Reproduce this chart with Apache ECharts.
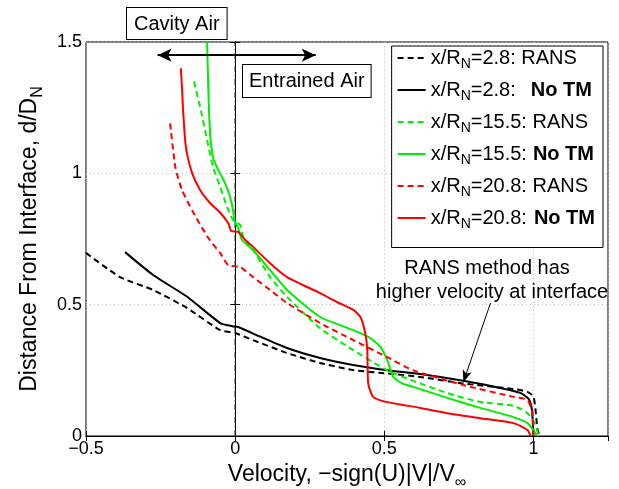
<!DOCTYPE html>
<html>
<head>
<meta charset="utf-8">
<script src="https://cdn.jsdelivr.net/npm/echarts@6/dist/echarts.min.js"></script>
<style>
  html, body { margin: 0; padding: 0; background: #fff; }
  #chart { width: 619px; height: 489px; }
</style>
</head>
<body>
<div id="chart"></div>
<script>
// velocity (x) vs distance from interface (y)
const rans28 = [[-0.5,0.697],[-0.386,0.605],[-0.275,0.556],[-0.161,0.487],[-0.05,0.403],[0,0.392],[0.06,0.365],[0.174,0.316],[0.285,0.278],[0.396,0.251],[0.51,0.238],[0.62,0.225],[0.765,0.2],[0.933,0.179],[0.98,0.168],[1.0,0.15],[1.007,0.099],[1.013,0.03],[1.02,0]]
const noTm28 = [[-0.369,0.70],[-0.275,0.613],[-0.161,0.53],[-0.05,0.43],[-0.01,0.418],[0.01,0.415],[0.06,0.39],[0.174,0.335],[0.285,0.297],[0.396,0.27],[0.51,0.25],[0.62,0.236],[0.765,0.21],[0.9,0.18],[0.956,0.164],[0.985,0.14],[0.995,0.1],[0.998,0.05],[1.0,0]]
const rans155 = [[-0.138,1.35],[-0.117,1.25],[-0.094,1.127],[-0.074,1.024],[-0.05,0.948],[-0.027,0.872],[-0.007,0.822],[0.017,0.803],[0.027,0.758],[0.06,0.708],[0.117,0.605],[0.174,0.53],[0.285,0.41],[0.396,0.327],[0.51,0.25],[0.597,0.21],[0.71,0.164],[0.82,0.13],[0.933,0.115],[0.98,0.087],[1.007,0.042],[1.017,0]]
const noTm155 = [[-0.094,1.5],[-0.09,1.32],[-0.084,1.15],[-0.074,1.06],[-0.06,1.02],[-0.034,0.963],[-0.017,0.91],[-0.007,0.86],[-0.003,0.822],[0.01,0.792],[0.023,0.746],[0.06,0.708],[0.117,0.632],[0.174,0.556],[0.285,0.453],[0.396,0.403],[0.453,0.373],[0.487,0.339],[0.51,0.289],[0.53,0.225],[0.56,0.2],[0.597,0.187],[0.711,0.145],[0.822,0.107],[0.933,0.072],[0.98,0.049],[1.013,0]]
const rans208 = [[-0.218,1.19],[-0.2,1.02],[-0.178,0.936],[-0.14,0.85],[-0.09,0.754],[-0.05,0.696],[-0.023,0.65],[0.017,0.643],[0.06,0.605],[0.117,0.556],[0.174,0.506],[0.285,0.43],[0.396,0.365],[0.51,0.30],[0.597,0.25],[0.765,0.194],[0.933,0.149],[0.98,0.137],[0.997,0.087],[1.0,0]]
const noTm208 = [[-0.182,1.40],[-0.178,1.32],[-0.175,1.25],[-0.17,1.16],[-0.164,1.09],[-0.144,1.0],[-0.117,0.936],[-0.084,0.887],[-0.05,0.85],[-0.023,0.81],[-0.013,0.78],[0.01,0.777],[0.034,0.746],[0.06,0.72],[0.117,0.658],[0.174,0.605],[0.285,0.544],[0.342,0.51],[0.396,0.48],[0.42,0.453],[0.436,0.392],[0.443,0.327],[0.446,0.2],[0.463,0.148],[0.51,0.129],[0.62,0.107],[0.711,0.087],[0.822,0.068],[0.933,0.049],[0.98,0.023],[0.99,0]]

const xTicks = [-0.5, 0, 0.5, 1]
const yTicks = [0, 0.5, 1, 1.5]
const seriesNames = ['2.8: RANS', '2.8: No TM', '15.5: RANS', '15.5: No TM', '20.8: RANS', '20.8: No TM']

const FONT = '"Liberation Sans", Arial, Helvetica, sans-serif'
const chart = echarts.init(document.getElementById('chart'), null, { renderer: 'canvas' })

function curve(name, data, color, dashed) {
  return {
    name, type: 'line', data, showSymbol: false, symbol: 'none', smooth: 0.2,
    lineStyle: { color, width: 2, type: dashed ? [6, 4] : 'solid' },
    itemStyle: { color },
    z: 3,
  }
}

function fmtTick(v) {
  if (v < 0) return '\u2212' + Math.abs(v)
  return String(v)
}

const option = {
  backgroundColor: '#fff',
  animation: false,
  textStyle: { fontFamily: FONT },
  grid: {
    left: 86, right: 11, top: 42, bottom: 53, outerBoundsMode: 'none',
    show: true, borderColor: '#000', borderWidth: 1,
  },
  xAxis: [{
    type: 'value', min: xTicks[0], max: 1.25, interval: 0.5,
    name: '{a|Velocity, \u2212sign(U)|V|/V}{s|\u221e}',
    nameLocation: 'middle', nameGap: 23,
    nameTextStyle: { rich: {
      a: { fontSize: 23, fontFamily: FONT, color: '#000' },
      s: { fontSize: 16, fontFamily: FONT, color: '#000', padding: [16, 0, 0, 0] },
    } },
    axisLine: { lineStyle: { color: '#000' } },
    axisTick: { inside: true, length: 5, lineStyle: { color: '#000' } },
    axisLabel: { formatter: fmtTick, showMaxLabel: false, color: '#000', fontSize: 18, fontFamily: FONT, margin: 4 },
    splitLine: { show: true, lineStyle: { color: '#bbb', type: [1, 3] } },
  }, {
    type: 'value', position: 'top', min: xTicks[0], max: 1.25, interval: 0.5,
    axisLine: { lineStyle: { color: '#000' } },
    axisTick: { inside: true, length: 5, lineStyle: { color: '#000' } },
    axisLabel: { show: false }, splitLine: { show: false },
  }],
  yAxis: [{
    type: 'value', min: yTicks[0], max: 1.5, interval: 0.5,
    name: '{a|Distance From Interface, d/D}{s|N}',
    nameLocation: 'middle', nameGap: 40,
    nameTextStyle: { rich: {
      a: { fontSize: 23, fontFamily: FONT, color: '#000' },
      s: { fontSize: 16, fontFamily: FONT, color: '#000', padding: [16, 0, 0, 0] },
    } },
    axisLine: { lineStyle: { color: '#000' } },
    axisTick: { inside: true, length: 5, lineStyle: { color: '#000' } },
    axisLabel: { color: '#000', fontSize: 18, fontFamily: FONT, margin: 4 },
    splitLine: { show: true, lineStyle: { color: '#bbb', type: [1, 3] } },
  }, {
    type: 'value', position: 'right', min: yTicks[0], max: 1.5, interval: 0.5,
    axisLine: { lineStyle: { color: '#000' } },
    axisTick: { inside: true, length: 5, lineStyle: { color: '#000' } },
    axisLabel: { show: false }, splitLine: { show: false },
  }],
  legend: {
    orient: 'vertical', right: 16, top: 46,
    data: seriesNames,
    itemWidth: 28, itemHeight: 14, itemGap: 8.5,
    itemStyle: { opacity: 0 },
    backgroundColor: '#fff', borderColor: '#000', borderWidth: 1,
    padding: [2, 8, 16, 5],
    formatter(name) {
      const parts = name.split(': ')
      const head = '{m|x/R}{s|N}{m|=' + parts[0] + ':}'
      if (parts[1] === 'RANS') return head + '{m| RANS}'
      const gap = parts[0] === '2.8' ? '{g2| }' : (parts[0] === '15.5' ? '{g1| }' : '{g3| }')
      return head + gap + '{b|No TM}'
    },
    textStyle: { rich: {
      m: { fontSize: 20, fontFamily: FONT, color: '#000' },
      s: { fontSize: 14, fontFamily: FONT, color: '#000', padding: [13, 0, 0, 0] },
      b: { fontSize: 20, fontFamily: FONT, color: '#000', fontWeight: 'bold' },
      g1: { fontSize: 20, width: 6 },
      g2: { fontSize: 20, width: 15 },
      g3: { fontSize: 20, width: 7 },
    } },
  },
  series: [
    curve(seriesNames[0], rans28, '#000', true),
    curve(seriesNames[1], noTm28, '#000', false),
    curve(seriesNames[2], rans155, '#00ee00', true),
    curve(seriesNames[3], noTm155, '#00ee00', false),
    curve(seriesNames[4], rans208, '#ff0000', true),
    curve(seriesNames[5], noTm208, '#ff0000', false),
    {
      // interface line at x=0 plus annotation arrows
      name: 'interface', type: 'line', data: [[0, 0], [0, 1.5]], symbol: 'none', z: 2,
      lineStyle: { color: '#222', width: 1.2, type: [6, 3, 1, 3] },
      markLine: {
        silent: true, symbolSize: [10, 14], label: { show: false },
        lineStyle: { color: '#000', type: 'solid' },
        data: [
          [{ coord: [-0.26, 1.45], symbol: 'arrow', lineStyle: { width: 2 } }, { coord: [0.27, 1.45], symbol: 'arrow' }],
          [{ coord: [0.856, 0.506], symbol: 'none', lineStyle: { width: 1 } }, { coord: [0.765, 0.205], symbol: 'arrow', symbolSize: [7, 12] }],
        ],
      },
    },
  ],
  graphic: [
    { type: 'text', left: 126, top: 7, z: 10, style: { text: 'Cavity Air', font: '20px ' + FONT, fill: '#000', backgroundColor: '#fff', borderColor: '#000', borderWidth: 1, padding: [6, 7, 5, 7] } },
    { type: 'text', left: 242, top: 64, z: 10, style: { text: 'Entrained Air', font: '20px ' + FONT, fill: '#000', backgroundColor: '#fff', borderColor: '#000', borderWidth: 1, padding: [6, 6, 6, 6] } },
    { type: 'text', x: 487, y: 268, z: 10, style: { text: 'RANS method has', font: '20px ' + FONT, fill: '#000', align: 'center', verticalAlign: 'middle' } },
    { type: 'text', x: 492, y: 292, z: 10, style: { text: 'higher velocity at interface', font: '20px ' + FONT, fill: '#000', align: 'center', verticalAlign: 'middle' } },
  ],
}

chart.setOption(option)
</script>
</body>
</html>
